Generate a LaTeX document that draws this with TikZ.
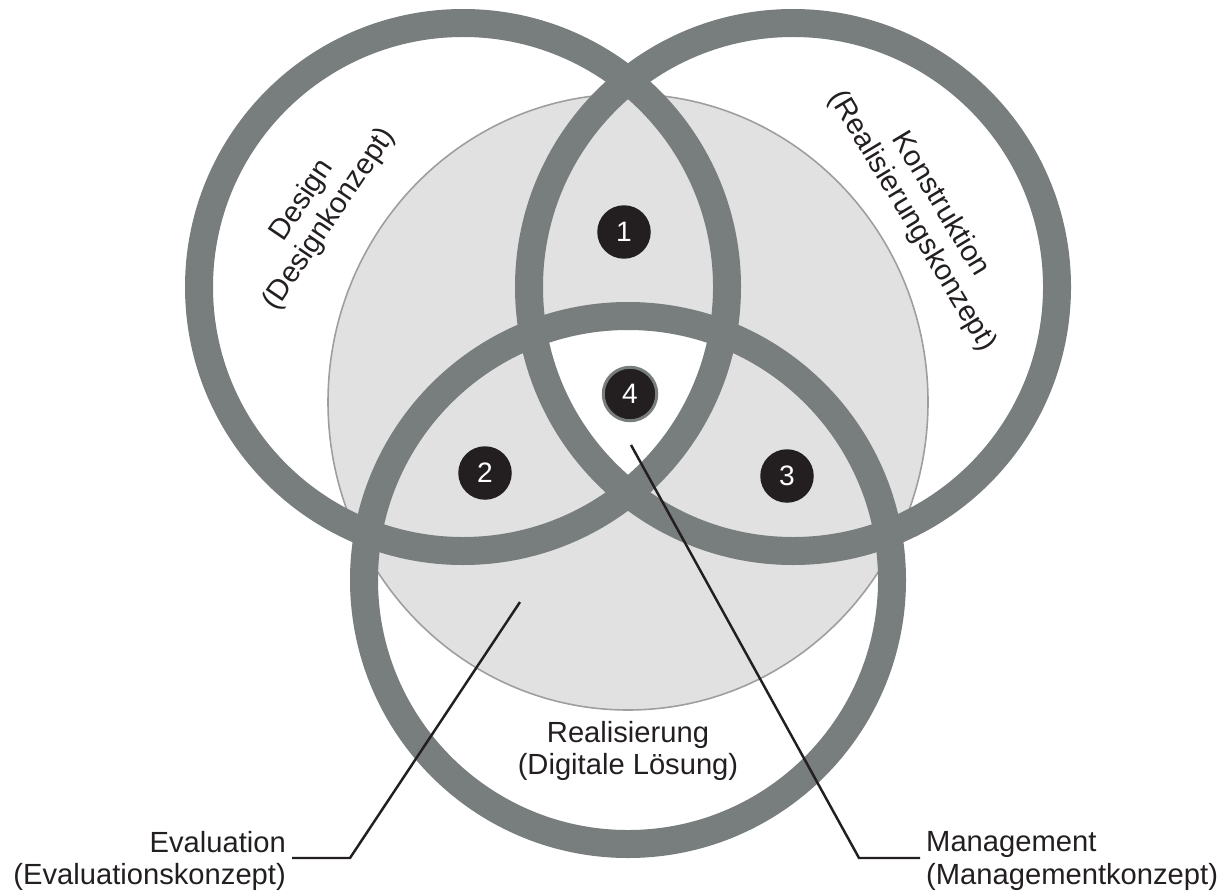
\documentclass[tikz,border=0pt]{standalone}
\usepackage{fontspec}
\setmainfont{Liberation Sans}
\definecolor{ringgray}{RGB}{120,125,125}
\definecolor{fillgray}{RGB}{225,225,225}
\definecolor{edgegray}{RGB}{158,158,158}
\definecolor{markblack}{RGB}{35,31,32}
\usetikzlibrary{positioning}

\begin{document}
\begin{tikzpicture}[x=0.02cm,y=-0.02cm,
  ring/.style={draw=ringgray,line width=0.56cm},
  marker/.style={circle,fill=markblack,text=white,inner sep=0pt,minimum size=1.07cm,font=\fontsize{16}{18}\selectfont},
  lbl/.style={text=markblack,font=\fontsize{16.6}{18.7}\selectfont},
  leader/.style={draw=markblack,line width=1.4pt}]
  \useasboundingbox (0,0) rectangle (1226,892);
  \draw[fill=fillgray,draw=edgegray,line width=0.9pt] (628,402) ellipse [x radius=300,y radius=308];
  \begin{scope}
    \clip (463,287) circle [radius=264];
    \clip (793,287) circle [radius=264];
    \fill[white] (628,580) circle [radius=264];
  \end{scope}
  \foreach \c in {(463,287),(793,287),(628,580)}
    \draw[ring] \c circle [radius=264];
  \node[marker] (m1) at (624,232) {1};
  \node[marker] (m2) at (485,473) {2};
  \node[marker] (m3) at (787,476) {3};
  \node[marker,draw=ringgray,line width=0.06cm] (m4) at (630,394) {4};
  \node[lbl,rotate=56,align=center] (design) at (316,210) {Design\\(Designkonzept)};
  \node[lbl,rotate=-59,align=center] (konstr) at (926,213) {Konstruktion\\(Realisierungskonzept)};
  \node[lbl,align=center] (real) at (628,751) {Realisierung\\(Digitale Lösung)};
  \node[lbl,align=right,anchor=east] (eval) at (292,861) {Evaluation\\(Evaluationskonzept)};
  \node[lbl,align=left,anchor=west] (mgmt) at (920,861) {Management\\(Managementkonzept)};
  \coordinate (evalknee) at (350,858);
  \coordinate (evaltip) at (520,602);
  \coordinate (mgmtknee) at (859,858);
  \coordinate (mgmttip) at (631,445);
  \draw[leader] (eval.east |- evalknee) -- (evalknee) -- (evaltip);
  \draw[leader] (mgmt.west |- mgmtknee) -- (mgmtknee) -- (mgmttip);
\end{tikzpicture}
\end{document}
